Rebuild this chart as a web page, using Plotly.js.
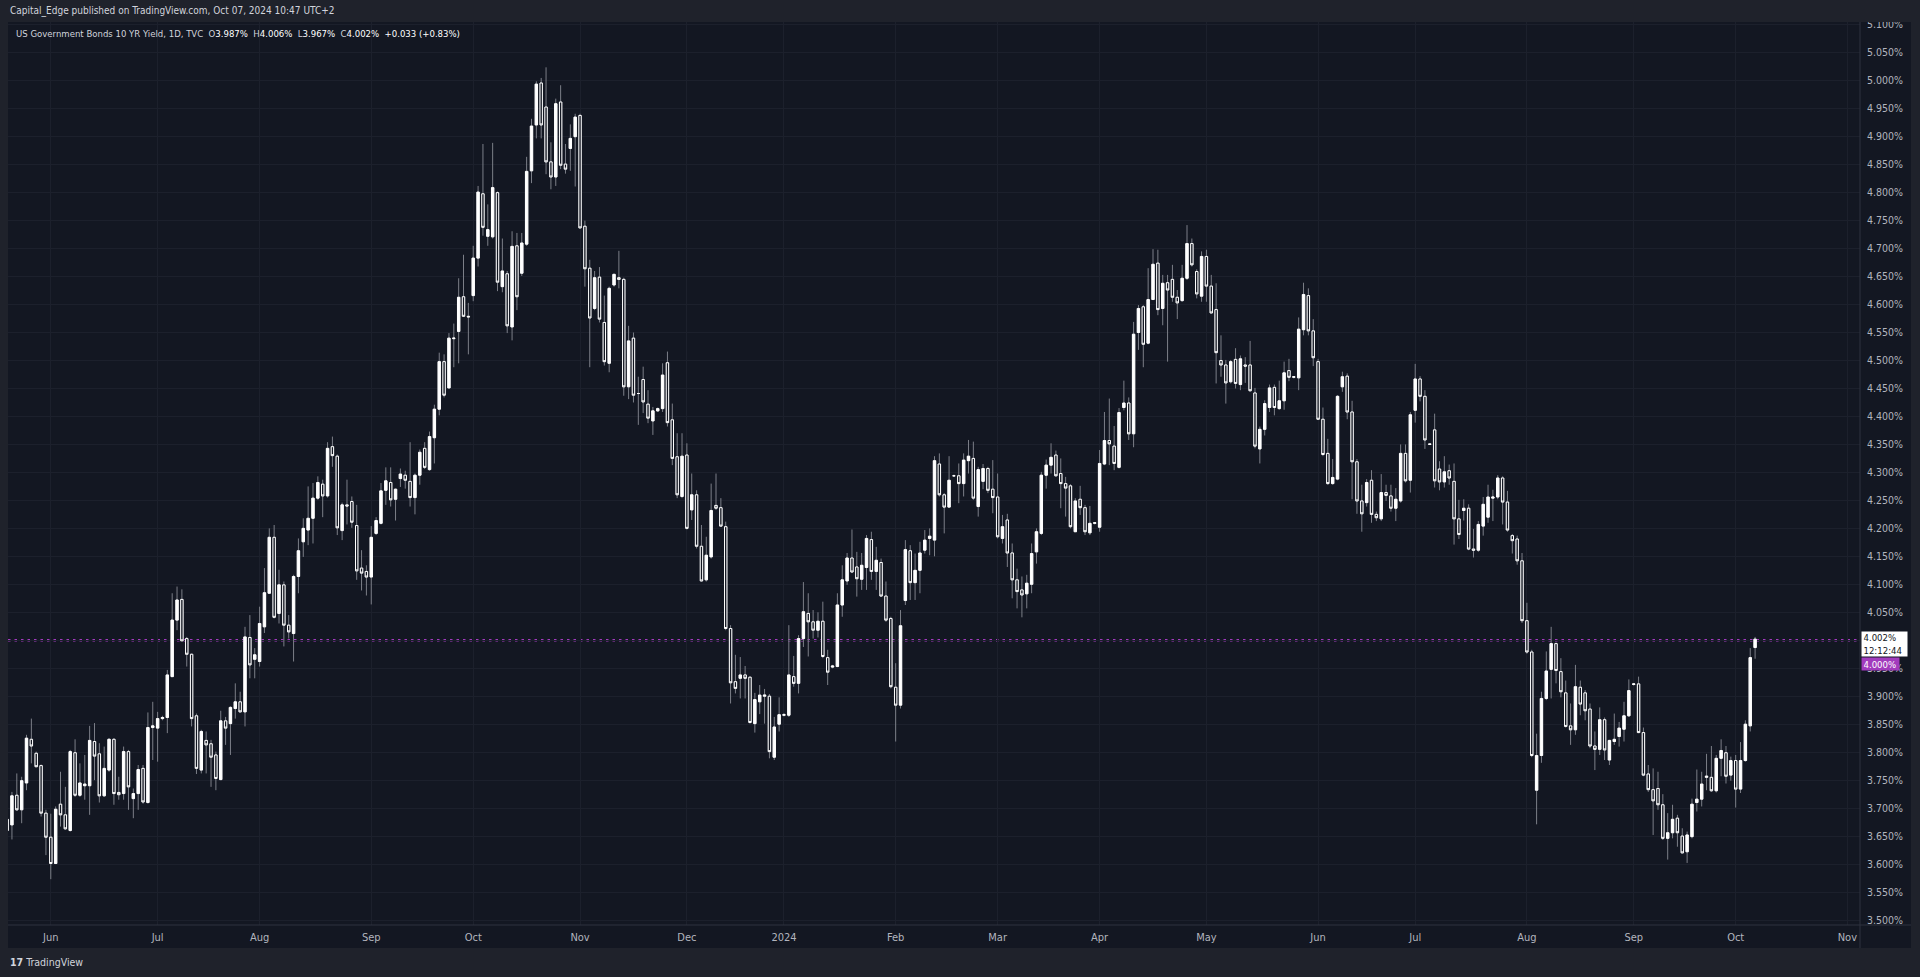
<!DOCTYPE html>
<html><head><meta charset="utf-8">
<script src="https://cdn.plot.ly/plotly-3.0.1.min.js"></script>
<style>html,body{margin:0;padding:0;background:#1f222b;overflow:hidden}#chart{width:1920px;height:977px}</style>
</head><body><div id="chart"></div>
<script>
// ---- trading days (TVC bars; 2023-12-25 has no bar) ----
const monthKeys = ['2023-05','2023-06','2023-07','2023-08','2023-09','2023-10','2023-11','2023-12','2024-01','2024-02','2024-03','2024-04','2024-05','2024-06','2024-07','2024-08','2024-09','2024-10'];
const monthDays = [
 [19,22,23,24,25,26,29,30,31],
 [1,2,5,6,7,8,9,12,13,14,15,16,19,20,21,22,23,26,27,28,29,30],
 [3,4,5,6,7,10,11,12,13,14,17,18,19,20,21,24,25,26,27,28,31],
 [1,2,3,4,7,8,9,10,11,14,15,16,17,18,21,22,23,24,25,28,29,30,31],
 [1,4,5,6,7,8,11,12,13,14,15,18,19,20,21,22,25,26,27,28,29],
 [2,3,4,5,6,9,10,11,12,13,16,17,18,19,20,23,24,25,26,27,30,31],
 [1,2,3,6,7,8,9,10,13,14,15,16,17,20,21,22,23,24,27,28,29,30],
 [1,4,5,6,7,8,11,12,13,14,15,18,19,20,21,22,26,27,28,29],
 [1,2,3,4,5,8,9,10,11,12,15,16,17,18,19,22,23,24,25,26,29,30,31],
 [1,2,5,6,7,8,9,12,13,14,15,16,19,20,21,22,23,26,27,28,29],
 [1,4,5,6,7,8,11,12,13,14,15,18,19,20,21,22,25,26,27,28,29],
 [1,2,3,4,5,8,9,10,11,12,15,16,17,18,19,22,23,24,25,26,29,30],
 [1,2,3,6,7,8,9,10,13,14,15,16,17,20,21,22,23,24,27,28,29,30,31],
 [3,4,5,6,7,10,11,12,13,14,17,18,19,20,21,24,25,26,27,28],
 [1,2,3,4,5,8,9,10,11,12,15,16,17,18,19,22,23,24,25,26,29,30,31],
 [1,2,5,6,7,8,9,12,13,14,15,16,19,20,21,22,23,26,27,28,29,30],
 [2,3,4,5,6,9,10,11,12,13,16,17,18,19,20,23,24,25,26,27,30],
 [1,2,3,4,7]
];
const noBarDays = ['2023-12-25'];

// ---- OHLC (%), one line per month ----
const openV = [
 3.660,3.670,3.723,3.697,3.745,3.823,3.798,3.776,3.691,
 3.648,3.601,3.707,3.688,3.660,3.799,3.723,3.740,3.740,3.819,3.797,3.722,3.768,3.823,3.728,3.726,3.801,3.717,3.726,3.771,3.710,3.844,
 3.843,3.860,3.862,3.935,4.036,4.073,4.003,3.975,3.865,3.768,3.821,3.815,3.795,3.751,3.856,3.851,3.878,3.890,3.872,4.005,3.966,
 3.962,4.024,4.084,4.184,4.048,4.099,4.027,4.012,4.114,4.176,4.197,4.218,4.254,4.279,4.258,4.346,4.329,4.196,4.242,4.248,4.205,4.129,4.123,
 4.113,4.191,4.209,4.268,4.282,4.252,4.289,4.295,4.284,4.255,4.295,4.343,4.305,4.362,4.413,4.498,4.451,4.539,4.552,4.614,4.579,
 4.616,4.683,4.798,4.722,4.721,4.800,4.632,4.655,4.560,4.705,4.656,4.708,4.839,4.921,4.996,4.953,4.855,4.828,4.962,4.851,4.879,4.900,
 4.938,4.740,4.665,4.593,4.649,4.568,4.495,4.635,4.648,4.645,4.453,4.540,4.441,4.466,4.422,4.392,4.410,4.414,4.496,4.394,4.328,4.257,
 4.331,4.233,4.260,4.168,4.108,4.149,4.241,4.237,4.203,4.021,3.926,3.932,3.938,3.934,3.851,3.890,3.900,3.900,3.791,3.850,
 3.866,3.866,3.935,3.923,4.003,4.048,4.033,4.018,4.034,3.969,3.952,3.953,4.063,4.106,4.147,4.131,4.109,4.130,4.180,4.123,4.139,4.079,4.039,
 3.916,3.884,4.071,4.160,4.103,4.125,4.161,4.182,4.179,4.315,4.260,4.238,4.294,4.294,4.280,4.321,4.325,4.239,4.284,4.307,4.270,
 4.256,4.182,4.215,4.156,4.108,4.090,4.083,4.100,4.158,4.191,4.295,4.313,4.331,4.298,4.280,4.276,4.194,4.252,4.237,4.192,4.209,
 4.202,4.315,4.357,4.347,4.309,4.416,4.424,4.369,4.550,4.596,4.531,4.609,4.674,4.593,4.639,4.645,4.613,4.607,4.647,4.709,4.659,4.615,
 4.686,4.633,4.591,4.500,4.492,4.462,4.502,4.457,4.492,4.492,4.442,4.342,4.377,4.416,4.452,4.414,4.428,4.482,4.470,4.469,4.555,4.616,4.553,
 4.498,4.395,4.334,4.280,4.288,4.453,4.472,4.408,4.319,4.249,4.246,4.286,4.225,4.217,4.264,4.258,4.236,4.249,4.334,4.286,
 4.411,4.467,4.436,4.351,4.376,4.306,4.283,4.303,4.284,4.217,4.232,4.236,4.163,4.161,4.204,4.220,4.254,4.256,4.290,4.247,4.187,4.181,4.142,
 4.035,3.979,3.732,3.794,3.896,3.948,3.994,3.944,3.906,3.847,3.840,3.916,3.906,3.877,3.811,3.805,3.858,3.786,3.819,3.828,3.841,3.865,
 3.921,3.922,3.835,3.761,3.733,3.735,3.706,3.646,3.656,3.682,3.650,3.622,3.649,3.710,3.716,3.755,3.755,3.731,3.789,3.799,3.759,
 3.785,3.734,3.785,3.847,3.987
];
const highV = [
 3.690,3.729,3.762,3.756,3.831,3.860,3.801,3.778,3.697,
 3.690,3.703,3.765,3.738,3.804,3.823,3.780,3.795,3.847,3.852,3.816,3.810,3.825,3.825,3.756,3.810,3.804,3.735,3.777,3.777,3.871,3.890,
 3.872,3.865,3.947,4.084,4.096,4.091,4.006,3.976,3.869,3.840,3.837,3.822,3.801,3.874,3.863,3.882,3.923,3.908,4.024,4.045,3.986,
 4.060,4.129,4.200,4.206,4.126,4.105,4.045,4.117,4.182,4.218,4.275,4.281,4.293,4.287,4.354,4.364,4.332,4.246,4.287,4.257,4.242,4.161,4.134,
 4.204,4.220,4.281,4.309,4.309,4.271,4.307,4.303,4.354,4.298,4.341,4.354,4.373,4.421,4.514,4.511,4.549,4.566,4.647,4.689,4.603,
 4.705,4.812,4.887,4.779,4.889,4.802,4.718,4.660,4.731,4.728,4.728,4.864,4.932,4.999,5.005,5.024,4.890,4.968,4.992,4.887,4.922,4.941,
 4.941,4.750,4.680,4.660,4.667,4.616,4.632,4.655,4.696,4.648,4.562,4.550,4.471,4.489,4.447,4.417,4.416,4.495,4.516,4.423,4.370,4.370,
 4.352,4.298,4.268,4.206,4.185,4.280,4.298,4.254,4.212,4.027,3.974,3.970,3.954,3.935,3.906,3.920,3.913,3.904,3.863,3.898,
 3.870,4.027,3.972,4.009,4.104,4.084,4.054,4.050,4.069,3.983,3.956,4.084,4.134,4.156,4.198,4.158,4.156,4.188,4.194,4.167,4.146,4.105,4.042,
 3.959,4.054,4.179,4.170,4.155,4.176,4.197,4.200,4.329,4.334,4.263,4.329,4.296,4.316,4.334,4.358,4.355,4.310,4.315,4.310,4.322,
 4.298,4.224,4.226,4.173,4.128,4.114,4.117,4.173,4.200,4.301,4.323,4.352,4.339,4.325,4.292,4.279,4.254,4.276,4.242,4.240,4.211,
 4.340,4.408,4.432,4.383,4.415,4.464,4.434,4.569,4.599,4.599,4.665,4.699,4.698,4.653,4.653,4.671,4.626,4.671,4.742,4.718,4.663,4.695,
 4.698,4.653,4.638,4.545,4.501,4.501,4.522,4.509,4.506,4.535,4.451,4.382,4.429,4.457,4.457,4.464,4.498,4.503,4.472,4.577,4.639,4.629,4.574,
 4.503,4.416,4.360,4.324,4.438,4.480,4.477,4.428,4.324,4.278,4.288,4.304,4.230,4.297,4.278,4.278,4.272,4.350,4.350,4.408,
 4.494,4.472,4.447,4.352,4.405,4.320,4.329,4.314,4.316,4.251,4.252,4.243,4.199,4.213,4.256,4.278,4.269,4.295,4.293,4.267,4.190,4.187,4.156,
 4.067,3.983,3.833,3.908,3.980,4.024,3.996,3.968,3.928,3.887,3.956,3.928,3.911,3.887,3.837,3.880,3.862,3.822,3.869,3.854,3.890,3.930,
 3.923,3.935,3.844,3.777,3.771,3.765,3.725,3.691,3.706,3.688,3.664,3.658,3.717,3.769,3.765,3.797,3.811,3.795,3.823,3.811,3.792,
 3.795,3.818,3.857,3.986,4.006
];
const lowV = [
 3.640,3.644,3.695,3.673,3.732,3.780,3.773,3.685,3.616,
 3.573,3.600,3.667,3.661,3.658,3.720,3.720,3.715,3.688,3.750,3.710,3.720,3.765,3.706,3.715,3.715,3.697,3.682,3.697,3.708,3.708,3.786,
 3.783,3.857,3.834,3.935,4.018,3.999,3.953,3.846,3.761,3.762,3.762,3.738,3.732,3.750,3.813,3.795,3.860,3.871,3.846,3.932,3.932,
 3.953,4.013,4.084,4.039,4.030,3.989,4.003,3.962,4.084,4.149,4.170,4.173,4.251,4.220,4.255,4.310,4.188,4.179,4.207,4.201,4.108,4.089,4.080,
 4.064,4.188,4.207,4.242,4.239,4.214,4.274,4.271,4.239,4.225,4.278,4.306,4.303,4.316,4.402,4.434,4.450,4.488,4.495,4.578,4.511,
 4.606,4.668,4.723,4.705,4.718,4.624,4.622,4.549,4.536,4.590,4.651,4.705,4.817,4.897,4.897,4.833,4.806,4.812,4.842,4.834,4.839,4.811,
 4.736,4.632,4.488,4.590,4.568,4.491,4.479,4.632,4.629,4.437,4.431,4.425,4.385,4.406,4.388,4.367,4.408,4.408,4.382,4.313,4.254,4.254,
 4.198,4.215,4.164,4.105,4.105,4.146,4.233,4.203,4.018,3.887,3.905,3.896,3.896,3.851,3.835,3.868,3.851,3.789,3.786,3.837,
 3.864,3.863,3.917,3.905,3.988,3.971,4.003,4.005,3.968,3.920,3.950,3.952,4.042,4.099,4.120,4.078,4.090,4.090,4.108,4.090,4.078,4.033,3.914,
 3.819,3.878,4.063,4.072,4.072,4.084,4.155,4.152,4.150,4.257,4.191,4.237,4.292,4.245,4.257,4.298,4.251,4.221,4.270,4.263,4.227,
 4.182,4.173,4.131,4.075,4.057,4.041,4.057,4.084,4.137,4.188,4.271,4.298,4.292,4.236,4.221,4.200,4.194,4.224,4.188,4.188,4.207,
 4.194,4.313,4.313,4.304,4.307,4.411,4.358,4.345,4.519,4.488,4.529,4.608,4.581,4.563,4.498,4.605,4.574,4.605,4.644,4.668,4.611,4.605,
 4.605,4.584,4.459,4.471,4.423,4.459,4.450,4.447,4.460,4.444,4.343,4.316,4.366,4.408,4.402,4.412,4.412,4.463,4.468,4.447,4.545,4.545,4.490,
 4.394,4.329,4.278,4.278,4.286,4.444,4.395,4.252,4.226,4.194,4.239,4.210,4.213,4.213,4.249,4.230,4.213,4.246,4.282,4.264,
 4.389,4.427,4.342,4.349,4.273,4.268,4.273,4.278,4.171,4.181,4.214,4.161,4.148,4.158,4.187,4.210,4.213,4.252,4.207,4.194,4.155,4.135,4.031,
 3.976,3.791,3.671,3.781,3.893,3.896,3.923,3.898,3.844,3.813,3.831,3.866,3.857,3.807,3.768,3.795,3.786,3.777,3.813,3.810,3.819,3.863,
 3.919,3.834,3.757,3.729,3.652,3.697,3.643,3.608,3.646,3.631,3.619,3.602,3.646,3.694,3.703,3.732,3.729,3.728,3.757,3.744,3.749,
 3.701,3.727,3.783,3.837,3.967
];
const closeV = [
 3.680,3.722,3.697,3.749,3.825,3.811,3.774,3.691,3.648,
 3.601,3.698,3.688,3.663,3.801,3.723,3.745,3.743,3.821,3.793,3.722,3.771,3.823,3.726,3.724,3.801,3.738,3.726,3.769,3.711,3.844,3.847,
 3.860,3.862,3.938,4.036,4.072,3.999,3.975,3.860,3.771,3.837,3.813,3.791,3.753,3.856,3.843,3.880,3.890,3.872,4.006,3.956,3.974,
 4.030,4.085,4.184,4.041,4.099,4.027,4.015,4.114,4.160,4.200,4.218,4.254,4.282,4.258,4.343,4.330,4.201,4.242,4.240,4.211,4.124,4.120,4.113,
 4.184,4.214,4.267,4.285,4.251,4.270,4.297,4.286,4.255,4.295,4.336,4.309,4.364,4.413,4.498,4.438,4.540,4.540,4.613,4.579,4.578,
 4.683,4.801,4.738,4.734,4.809,4.640,4.660,4.562,4.704,4.614,4.710,4.838,4.919,4.994,4.921,4.855,4.828,4.959,4.849,4.842,4.897,4.935,
 4.737,4.664,4.576,4.648,4.574,4.498,4.629,4.654,4.645,4.453,4.535,4.438,4.441,4.426,4.397,4.410,4.414,4.474,4.389,4.325,4.260,4.329,
 4.200,4.260,4.168,4.106,4.152,4.232,4.236,4.204,4.021,3.924,3.914,3.938,3.932,3.853,3.894,3.902,3.902,3.801,3.845,3.867,
 3.867,3.938,3.923,4.003,4.051,4.033,4.018,4.034,3.971,3.943,3.954,4.063,4.108,4.147,4.122,4.110,4.134,4.182,4.123,4.143,4.079,4.036,3.917,
 3.884,4.026,4.162,4.103,4.125,4.156,4.179,4.186,4.321,4.260,4.238,4.286,4.294,4.280,4.322,4.329,4.254,4.305,4.307,4.268,4.255,
 4.185,4.203,4.156,4.108,4.087,4.081,4.102,4.155,4.194,4.295,4.313,4.327,4.294,4.280,4.272,4.203,4.249,4.237,4.194,4.209,4.210,
 4.316,4.357,4.351,4.316,4.407,4.424,4.369,4.547,4.593,4.529,4.609,4.672,4.591,4.638,4.626,4.613,4.603,4.647,4.709,4.671,4.619,4.686,
 4.633,4.585,4.514,4.492,4.460,4.498,4.459,4.503,4.490,4.446,4.347,4.377,4.423,4.451,4.416,4.428,4.478,4.470,4.471,4.556,4.618,4.553,4.505,
 4.395,4.332,4.280,4.291,4.436,4.471,4.408,4.319,4.249,4.226,4.282,4.225,4.219,4.264,4.259,4.236,4.252,4.334,4.285,4.403,
 4.467,4.436,4.358,4.350,4.285,4.283,4.301,4.290,4.217,4.189,4.236,4.163,4.161,4.207,4.243,4.256,4.256,4.290,4.247,4.197,4.178,4.142,4.035,
 3.979,3.794,3.794,3.896,3.945,3.994,3.946,3.908,3.846,3.840,3.917,3.886,3.874,3.811,3.805,3.858,3.804,3.821,3.823,3.843,3.865,3.910,
 3.922,3.835,3.759,3.733,3.713,3.706,3.646,3.656,3.680,3.656,3.620,3.652,3.707,3.716,3.743,3.757,3.731,3.789,3.803,3.757,3.785,
 3.734,3.785,3.850,3.969,4.002
];

// ---- axis labels / texts ----
const monthTickDates = ['2023-06-01','2023-07-03','2023-08-01','2023-09-01','2023-10-02','2023-11-01','2023-12-01','2024-01-01','2024-02-01','2024-03-01','2024-04-01','2024-05-01','2024-06-03','2024-07-01','2024-08-01','2024-09-02','2024-10-01','2024-11-01'];
const monthTickLabels = ['Jun','Jul','Aug','Sep','Oct','Nov','Dec','2024','Feb','Mar','Apr','May','Jun','Jul','Aug','Sep','Oct','Nov'];
const priceTicks = [3.50,3.55,3.60,3.65,3.70,3.75,3.80,3.85,3.90,3.95,4.00,4.05,4.10,4.15,4.20,4.25,4.30,4.35,4.40,4.45,4.50,4.55,4.60,4.65,4.70,4.75,4.80,4.85,4.90,4.95,5.00,5.05,5.10];
const hLineLevel = 4.000;
const countdown = '12:12:44';
const headerText = 'Capital_Edge published on TradingView.com, Oct 07, 2024 10:47 UTC+2';
const symbolText = 'US Government Bonds 10 YR Yield, 1D, TVC';

// ---- build ----
const dates = [];
monthKeys.forEach((m, k) => monthDays[k].forEach(d => dates.push(m + '-' + String(d).padStart(2, '0'))));
const bodyTop = openV.map((o, i) => Math.max(o, closeV[i]));
const bodyBot = openV.map((o, i) => Math.min(o, closeV[i]));
// the last-price label sits on top of the 4.000% scale label, so that one is not printed
const priceTickText = priceTicks.map(v => Math.abs(v - hLineLevel) < 1e-9 ? '' : v.toFixed(3) + '%');

const BG = '#131722', FRAME = '#1f222b', GRID = '#1c202c', BORDER = '#2f333e';
const TXT = '#d1d4dc', AXT = '#b2b5be', WICK = '#7c7f88', PURPLE = '#a23bbd';
const FONT = '"Liberation Sans Narrow", "DejaVu Sans Condensed", "Roboto Condensed", "Liberation Sans", sans-serif';

const W = 1920, H = 977, L = 8, R = 1860, T = 22, B = 925;
const px = x => (x - L) / (R - L);
const py = y => (B - y) / (B - T);

const wicks = {
  type: 'candlestick', x: dates, open: openV, high: highV, low: lowV, close: closeV,
  increasing: {line: {color: WICK, width: 1}, fillcolor: WICK},
  decreasing: {line: {color: WICK, width: 1}, fillcolor: WICK},
  whiskerwidth: 0, hoverinfo: 'skip', showlegend: false
};
const bodies = {
  type: 'candlestick', x: dates, open: openV, high: bodyTop, low: bodyBot, close: closeV,
  increasing: {line: {color: '#ffffff', width: 1}, fillcolor: '#ffffff'},
  decreasing: {line: {color: '#ffffff', width: 1}, fillcolor: BG},
  whiskerwidth: 0, hoverinfo: 'skip', showlegend: false
};

const n = closeV.length;
const lastC = closeV[n - 1], prevC = closeV[n - 2];
const chg = lastC - prevC;
const f3 = v => v.toFixed(3);
const val = s => '<span style="color:#ffffff">' + s + '</span>';
const legend = symbolText + '\u00a0\u00a0O' + val(f3(openV[n-1]) + '%') + '\u00a0\u00a0H' + val(f3(highV[n-1]) + '%') +
  '\u00a0\u00a0L' + val(f3(lowV[n-1]) + '%') + '\u00a0\u00a0C' + val(f3(lastC) + '%') + '\u00a0\u00a0' +
  val((chg >= 0 ? '+' : '') + f3(chg) + ' (' + (chg >= 0 ? '+' : '') + (chg / prevC * 100).toFixed(2) + '%)');

const layout = {
  width: W, height: H,
  margin: {l: L, r: W - R, t: T, b: H - B, pad: 0},
  paper_bgcolor: BG, plot_bgcolor: BG,
  showlegend: false, dragmode: false,
  font: {family: FONT, color: AXT},
  xaxis: {
    type: 'date',
    range: ['2023-05-19 04:30', '2024-11-05 14:30'],
    rangebreaks: [{bounds: ['sat', 'mon']}, {values: noBarDays}],
    rangeslider: {visible: false},
    tickmode: 'array', tickvals: monthTickDates, ticktext: monthTickLabels,
    showgrid: true, gridcolor: GRID, gridwidth: 1,
    zeroline: false, showline: false, ticks: '',
    tickfont: {family: FONT, size: 11, color: AXT},
    ticklabelstandoff: 4, fixedrange: true
  },
  yaxis: {
    side: 'right', range: [3.4911, 5.1050],
    tickmode: 'array', tickvals: priceTicks, ticktext: priceTickText,
    showgrid: true, gridcolor: GRID, gridwidth: 1,
    zeroline: false, showline: false, ticks: '',
    tickfont: {family: FONT, size: 10.5, color: AXT},
    ticklabelstandoff: 6, fixedrange: true
  },
  shapes: [
    {type: 'line', xref: 'paper', yref: 'y', x0: 0, x1: 1, y0: hLineLevel, y1: hLineLevel, layer: 'below',
     line: {color: PURPLE, width: 2.5, dash: '2.5px,4px'}},
    // frame strips
    {type: 'rect', xref: 'paper', yref: 'paper', x0: -0.05, x1: 1.05, y0: 1, y1: 1.06, layer: 'above', line: {width: 0}, fillcolor: FRAME},
    {type: 'rect', xref: 'paper', yref: 'paper', x0: -0.05, x1: 1.05, y0: py(948), y1: -0.07, layer: 'above', line: {width: 0}, fillcolor: FRAME},
    {type: 'rect', xref: 'paper', yref: 'paper', x0: -0.05, x1: 0, y0: -0.07, y1: 1.06, layer: 'above', line: {width: 0}, fillcolor: FRAME},
    {type: 'rect', xref: 'paper', yref: 'paper', x0: px(1911), x1: 1.05, y0: -0.07, y1: 1.06, layer: 'above', line: {width: 0}, fillcolor: FRAME},
    // scale separators
    {type: 'line', xref: 'paper', yref: 'paper', x0: 1, x1: 1, y0: py(948), y1: 1, layer: 'above', line: {color: BORDER, width: 1}},
    {type: 'line', xref: 'paper', yref: 'paper', x0: 0, x1: px(1911), y0: 0, y1: 0, layer: 'above', line: {color: BORDER, width: 1}}
  ],
  annotations: [
    {xref: 'paper', yref: 'paper', x: 0, y: py(11), xanchor: 'left', yanchor: 'middle', showarrow: false,
     text: headerText, font: {family: FONT, size: 10, color: TXT}},
    {xref: 'paper', yref: 'paper', x: px(14), y: py(34), xanchor: 'left', yanchor: 'middle', showarrow: false,
     text: legend, font: {family: FONT, size: 9.5, color: TXT}},
    {xref: 'paper', yref: 'paper', x: 0, y: py(962), xanchor: 'left', yanchor: 'middle', showarrow: false,
     text: '<b>17</b> TradingView', font: {family: FONT, size: 10.5, color: TXT}},
    {xref: 'paper', yref: 'y', x: 1, xshift: 1, y: lastC, yshift: 8, xanchor: 'left', yanchor: 'top', showarrow: false,
     text: f3(lastC) + '%<br>' + countdown, align: 'left', width: 42, height: 21, borderpad: 1.5,
     bgcolor: '#ffffff', font: {family: FONT, size: 9.5, color: '#131722'}},
    {xref: 'paper', yref: 'y', x: 1, xshift: 1, y: hLineLevel, yshift: -17, xanchor: 'left', yanchor: 'top', showarrow: false,
     text: f3(hLineLevel) + '%', align: 'left', width: 34, height: 9, borderpad: 1.5,
     bgcolor: PURPLE, font: {family: FONT, size: 9.5, color: '#ffffff'}}
  ]
};

Plotly.newPlot('chart', [wicks, bodies], layout, {staticPlot: true, displayModeBar: false});
</script>
</body></html>
